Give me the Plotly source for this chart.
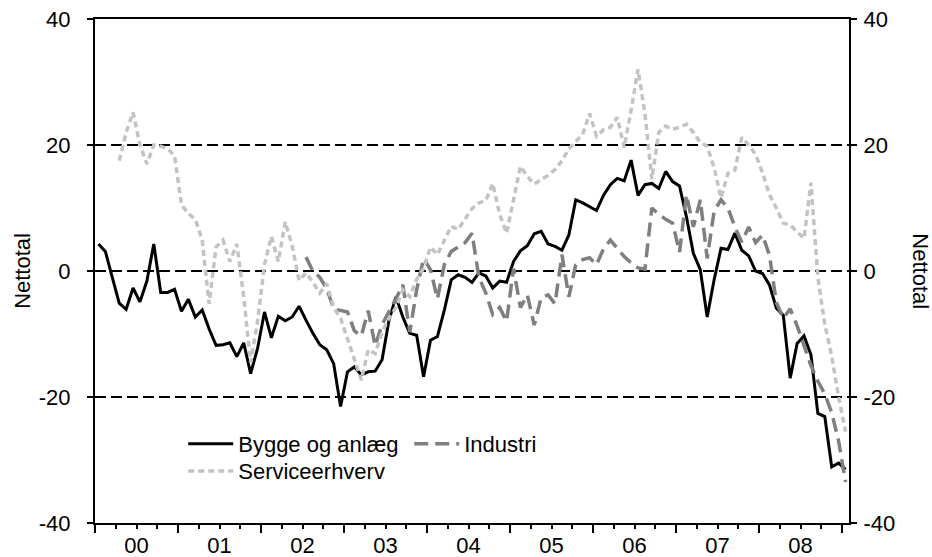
import plotly.graph_objects as go

# ---- data (monthly, Jan 2000 .. Jan 2009) ----
bygge = [4.3, 3.1, -1.0, -5.1, -6.1, -2.7, -4.9, -1.6, 4.3, -3.4, -3.4, -2.9,
         -6.4, -4.5, -7.3, -6.2, -9.2, -11.8, -11.7, -11.4, -13.6, -11.4, -16.3, -12.3,
         -6.5, -10.6, -7.2, -7.9, -7.3, -5.6, -7.8, -9.9, -11.7, -12.5, -14.7, -21.5,
         -16.0, -15.2, -16.5, -16.0, -15.9, -14.1, -7.8, -4.1, -7.3, -9.9, -10.2, -16.8,
         -11.0, -10.4, -6.2, -1.4, -0.6, -1.0, -1.8, -0.3, -0.8, -2.7, -1.6, -1.8,
         1.5, 3.2, 4.0, 5.9, 6.3, 4.3, 3.9, 3.3, 5.7, 11.3, 10.8, 10.2,
         9.6, 12.0, 13.7, 14.7, 14.3, 17.6, 12.0, 13.7, 13.9, 13.1, 15.8, 14.2,
         13.5, 8.6, 2.8, 0.2, -7.3, -1.4, 3.6, 3.4, 6.0, 3.3, 2.4, 0.0,
         -0.4, -2.2, -5.9, -7.0, -17.0, -11.5, -10.3, -13.3, -22.6, -23.1, -31.1, -30.5,
         -31.5]

industri = [None] * 30 + [
    2.2, 0.0, -1.0, -2.8, -6.0, -6.3,
    -6.5, -9.5, -10.3, -6.3, -11.9, -8.5, -6.5, -4.4, -2.2, -9.7, -3.0, 2.0,
    0.2, -4.4, 1.0, 3.1, 3.8, 4.5, 6.0, -1.0, -3.5, -6.9, -5.8, -8.0,
    0.4, -5.8, -3.8, -8.6, -4.2, -3.8, -5.2, 2.6, -4.1, 1.0, 1.8, 2.1,
    1.0, 3.5, 4.9, 3.6, 2.3, 1.3, 0.5, 0.3, 10.0, 9.0, 8.2, 7.6,
    3.0, 12.1, 7.0, 11.3, 2.0, 9.5, 11.3, 10.0, 7.0, 4.6, 7.0, 4.5,
    5.7, 2.5, -5.0, -7.5, -6.0, -8.7, -12.0, -15.0, -17.5, -19.5, -22.5, -27.0,
    -33.5]

service = [None] * 3 + [
    17.5, 22.0, 25.2, 20.0, 17.0, 20.0, 19.8, 19.4, 18.3,
    10.5, 9.1, 8.2, 4.9, -5.2, 3.8, 4.9, 1.5, 4.3, -4.1, -14.5, -8.0,
    1.0, 5.5, 1.5, 7.8, 4.0, -1.5, -0.3, -1.8, -3.5, -2.0, -5.8, -7.5,
    -10.8, -14.0, -17.3, -12.5, -13.1, -9.7, -7.5, -5.8, -3.0, -4.1, -1.3, 0.4,
    3.8, 2.6, 5.0, 7.1, 6.6, 8.2, 9.9, 10.8, 11.2, 13.9, 9.0, 6.0,
    11.0, 16.6, 15.0, 13.8, 14.5, 15.2, 16.1, 17.5, 19.4, 20.5, 21.7, 25.0,
    21.4, 22.4, 22.8, 24.4, 19.6, 25.5, 32.0, 25.0, 14.6, 22.0, 23.0, 22.5,
    22.8, 23.3, 22.0, 20.4, 19.8, 16.4, 11.6, 15.5, 16.0, 21.2, 20.0, 18.5,
    15.6, 12.1, 10.0, 7.6, 7.3, 6.2, 5.2, 14.0, -1.0, -8.5, -13.5, -20.0,
    -25.5]

year_labels = ['00', '01', '02', '03', '04', '05', '06', '07', '08']
y_tickvals = [-40, -20, 0, 20, 40]
y_ticktext = ['-40', '-20', '0', '20', '40']
series_names = ['Bygge og anlæg', 'Industri', 'Serviceerhverv']
axis_title = 'Nettotal'

# ---- derived positions ----
n = len(bygge)
x = list(range(n))
xrange = [-0.5, n - 0.5]
year_bounds = [-0.5 + 12 * k for k in range(10)]
quarter_ticks = [-0.5 + 3 * k for k in range(37)]
year_centers = [5.5 + 12 * k for k in range(len(year_labels))]

FONT = 'Liberation Sans, Arial, sans-serif'
fs = 22

fig = go.Figure()
fig.add_trace(go.Scatter(x=x, y=bygge, name=series_names[0], mode='lines',
                         line=dict(color='#000000', width=3), legend='legend'))
fig.add_trace(go.Scatter(x=x, y=industri, name=series_names[1], mode='lines',
                         line=dict(color='#7f7f7f', width=3.5, dash='14px,7px'), legend='legend'))
fig.add_trace(go.Scatter(x=x, y=service, name=series_names[2], mode='lines',
                         line=dict(color='#c3c3c3', width=3.5, dash='6px,4px'), legend='legend2'))
fig.add_trace(go.Scatter(x=[None], y=[None], xaxis='x2', yaxis='y2',
                         showlegend=False, hoverinfo='skip'))

axis_common = dict(showline=True, linecolor='black', linewidth=2, zeroline=False,
                   tickcolor='black', tickwidth=1.5, automargin=False,
                   ticklabeloverflow='allow',
                   tickfont=dict(family=FONT, size=fs, color='black'))

fig.update_layout(
    width=932, height=557,
    margin=dict(l=95, r=83, t=19, b=34, autoexpand=False),
    paper_bgcolor='white', plot_bgcolor='white',
    font=dict(family=FONT, size=fs, color='black'),
    xaxis=dict(range=xrange, tickmode='array', tickvals=year_bounds,
               ticks='outside', ticklen=8, showticklabels=False, mirror=True,
               showgrid=False,
               minor=dict(tickmode='array', tickvals=quarter_ticks, ticks='outside',
                          ticklen=4, tickwidth=1.5, tickcolor='black', showgrid=False),
               **axis_common),
    xaxis2=dict(range=xrange, overlaying='x', anchor='y', side='bottom',
                tickmode='array', tickvals=year_centers, ticktext=year_labels,
                ticks='', showline=False, showgrid=False, zeroline=False,
                automargin=False, ticklabelstandoff=7, ticklabeloverflow='allow',
                tickfont=dict(family=FONT, size=fs, color='black')),
    yaxis=dict(range=[-40, 40], tickmode='array', tickvals=y_tickvals, ticktext=y_ticktext,
               ticks='outside', ticklen=6, showgrid=True, gridcolor='black',
               gridwidth=1.5, griddash='11px,5px', ticklabelstandoff=12, **axis_common),
    yaxis2=dict(range=[-40, 40], overlaying='y', side='right', anchor='x2',
                tickmode='array', tickvals=y_tickvals, ticktext=y_ticktext,
                ticks='outside', ticklen=6, showgrid=False, ticklabelstandoff=2,
                **axis_common),
    legend=dict(orientation='h', x=0.117, y=0.157, xanchor='left', yanchor='middle',
                bgcolor='rgba(0,0,0,0)', font=dict(family=FONT, size=fs), itemwidth=45,
                entrywidth=166),
    legend2=dict(orientation='h', x=0.117, y=0.103, xanchor='left', yanchor='middle',
                 bgcolor='rgba(0,0,0,0)', font=dict(family=FONT, size=fs), itemwidth=45),
    annotations=[
        dict(text=axis_title, xref='paper', yref='paper', x=-0.097, y=0.5,
             xanchor='center', yanchor='middle',
             textangle=-90, showarrow=False, font=dict(family=FONT, size=fs)),
        dict(text=axis_title, xref='paper', yref='paper', x=1.095, y=0.5,
             xanchor='center', yanchor='middle',
             textangle=90, showarrow=False, font=dict(family=FONT, size=fs)),
    ],
    showlegend=True,
)

# remove the browser's default 8px body margin so the figure sits at (0, 0)
fig.write_html('out.html', config={'displayModeBar': False},
               post_script="document.body.style.margin='0';")
